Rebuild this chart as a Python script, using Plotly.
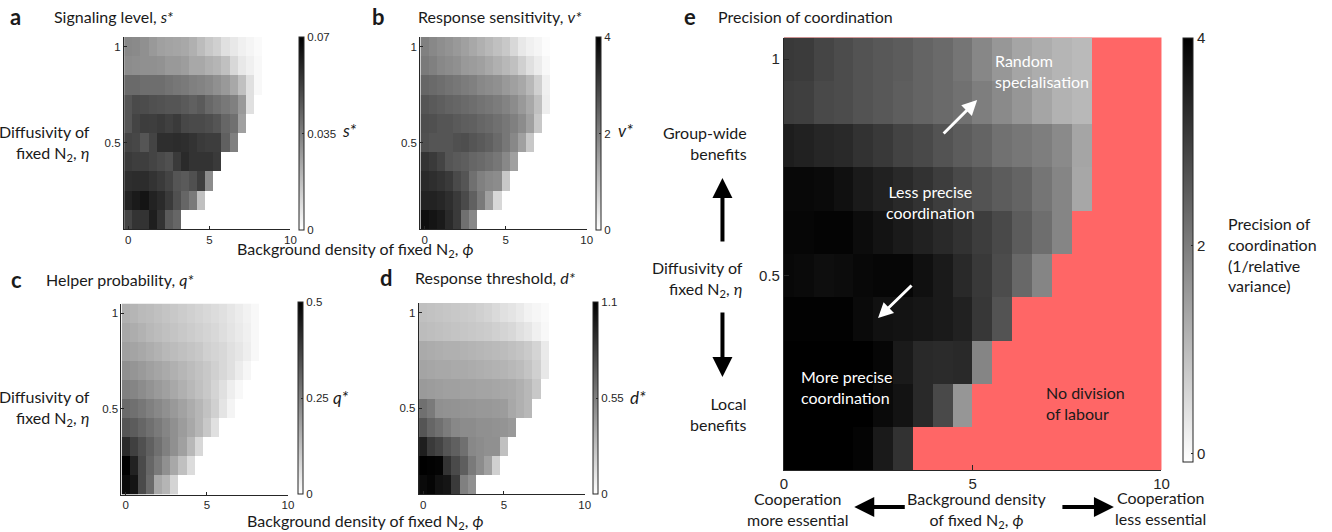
import plotly.graph_objects as go

W, H = 1332, 532

# ---------------- data ----------------
eta = [0.1, 0.2, 0.3, 0.4, 0.5, 0.6, 0.7, 0.8, 0.9, 1.0]
phi_ad = [0.0, 0.5, 1.0, 1.5, 2.0, 2.5, 3.0, 3.5, 4.0, 4.5,
          5.0, 5.5, 6.0, 6.5, 7.0, 7.5, 8.0, 8.5, 9.0, 9.5]
phi_e = [0.0, 0.526, 1.053, 1.579, 2.105, 2.632, 3.158, 3.684, 4.211, 4.737,
         5.263, 5.789, 6.316, 6.842, 7.368, 7.895, 8.421, 8.947, 9.474, 10.0]

# rows ordered eta = 0.1 ... 1.0 ; cells beyond each row's end = no division of labour
s_rows = [
    [.0513, .056, .056, .0618, .056, .0453, .042],
    [.0607, .0629, .0645, .0607, .0585, .0541, .048, .042, .0365, .0173],
    [.0574, .0579, .0579, .056, .0541, .0513, .0467, .0453, .048, .053, .0316],
    [.0541, .053, .053, .0513, .0497, .048, .0541, .0585, .056, .056, .056, .0541],
    [.0513, .0505, .0467, .0513, .0574, .0574, .0579, .0574, .056, .0541, .0533, .0533, .0436, .0349],
    [.0467, .0513, .0533, .053, .0541, .0524, .0541, .0505, .0497, .0497, .0486, .0467, .042, .0393, .0261],
    [.0467, .0497, .0491, .048, .0475, .0467, .0467, .0453, .0436, .0453, .0414, .0393, .037, .0349, .028, .0085],
    [.0409, .0409, .0398, .0398, .0398, .0384, .0373, .0365, .0349, .034, .0327, .0305, .028, .0239, .0173, .0085, .0019],
    [.0316, .031, .0305, .0305, .030, .028, .028, .027, .0239, .0239, .0217, .0203, .0173, .0107, .0063, .0041, .0019],
    [.0327, .0321, .0305, .028, .0261, .0253, .0247, .0239, .0217, .0184, .0151, .0129, .0085, .0063, .0041, .0027, .0014],
]
v_rows = [
    [3.78, 3.69, 3.59, 3.34, 3.09, 2.24, 1.87],
    [3.47, 3.47, 3.40, 3.28, 3.09, 2.84, 2.49, 2.09, 1.49, 0.61],
    [3.34, 3.28, 3.20, 3.09, 2.84, 2.67, 2.24, 1.99, 1.87, 1.80, 0.86],
    [3.20, 3.09, 2.93, 2.67, 2.59, 2.53, 2.40, 2.34, 2.24, 2.13, 1.87, 1.49],
    [2.75, 2.67, 2.67, 2.67, 2.75, 2.78, 2.67, 2.59, 2.49, 2.34, 2.13, 1.87, 1.49, 0.86],
    [2.78, 2.75, 2.67, 2.67, 2.59, 2.53, 2.49, 2.40, 2.34, 2.24, 2.13, 1.99, 1.80, 1.49, 0.86],
    [2.67, 2.59, 2.53, 2.45, 2.40, 2.34, 2.27, 2.20, 2.13, 2.05, 1.95, 1.80, 1.60, 1.36, 0.99, 0.27],
    [2.40, 2.34, 2.27, 2.20, 2.13, 2.05, 1.99, 1.87, 1.80, 1.74, 1.60, 1.49, 1.36, 1.11, 0.74, 0.24],
    [2.09, 1.99, 1.87, 1.80, 1.74, 1.60, 1.55, 1.49, 1.36, 1.24, 1.11, 0.99, 0.74, 0.49, 0.30, 0.11],
    [1.99, 1.87, 1.77, 1.69, 1.60, 1.49, 1.36, 1.24, 1.11, 0.99, 0.86, 0.61, 0.36, 0.24, 0.16, 0.05],
]
q_rows = [
    [0.48, 0.461, 0.355, 0.292, 0.171, 0.145, 0.084],
    [0.50, 0.433, 0.355, 0.300, 0.261, 0.218, 0.171, 0.124, 0.069],
    [0.418, 0.375, 0.343, 0.312, 0.280, 0.249, 0.218, 0.186, 0.139, 0.076],
    [0.333, 0.320, 0.300, 0.280, 0.261, 0.239, 0.218, 0.194, 0.171, 0.143, 0.108, 0.061],
    [0.292, 0.280, 0.267, 0.249, 0.233, 0.218, 0.200, 0.182, 0.163, 0.143, 0.120, 0.092, 0.053, 0.022],
    [0.249, 0.239, 0.225, 0.212, 0.198, 0.186, 0.171, 0.155, 0.139, 0.124, 0.108, 0.084, 0.061, 0.033, 0.014],
    [0.218, 0.208, 0.198, 0.186, 0.176, 0.167, 0.155, 0.143, 0.131, 0.120, 0.108, 0.092, 0.076, 0.061, 0.037, 0.018],
    [0.186, 0.178, 0.171, 0.161, 0.151, 0.139, 0.131, 0.124, 0.116, 0.108, 0.092, 0.084, 0.076, 0.061, 0.049, 0.033, 0.014],
    [0.171, 0.161, 0.151, 0.139, 0.131, 0.124, 0.116, 0.108, 0.100, 0.092, 0.084, 0.076, 0.065, 0.053, 0.041, 0.029, 0.014],
    [0.155, 0.145, 0.135, 0.131, 0.124, 0.116, 0.108, 0.100, 0.092, 0.084, 0.076, 0.069, 0.061, 0.049, 0.037, 0.025, 0.014],
]
d_rows = [
    [1.057, 1.078, 1.027, 1.009, 0.850, 0.548, 0.479],
    [1.100, 1.091, 1.083, 0.880, 0.781, 0.694, 0.574, 0.496, 0.410, 0.203],
    [0.971, 0.850, 0.807, 0.733, 0.686, 0.617, 0.513, 0.496, 0.479, 0.479, 0.272],
    [0.733, 0.660, 0.617, 0.565, 0.513, 0.496, 0.496, 0.479, 0.479, 0.470, 0.462, 0.440],
    [0.617, 0.574, 0.479, 0.470, 0.466, 0.457, 0.453, 0.444, 0.444, 0.436, 0.427, 0.375, 0.341, 0.306],
    [0.436, 0.427, 0.418, 0.410, 0.410, 0.401, 0.401, 0.393, 0.393, 0.384, 0.375, 0.367, 0.341, 0.306, 0.237],
    [0.393, 0.384, 0.375, 0.375, 0.367, 0.367, 0.358, 0.349, 0.341, 0.332, 0.324, 0.306, 0.289, 0.254, 0.203, 0.099],
    [0.367, 0.358, 0.349, 0.341, 0.341, 0.332, 0.324, 0.315, 0.306, 0.298, 0.289, 0.272, 0.254, 0.229, 0.185, 0.090],
    [0.289, 0.280, 0.272, 0.263, 0.254, 0.246, 0.237, 0.229, 0.220, 0.203, 0.185, 0.168, 0.134, 0.108, 0.065, 0.030],
    [0.272, 0.263, 0.254, 0.246, 0.237, 0.229, 0.220, 0.203, 0.185, 0.160, 0.134, 0.116, 0.090, 0.056, 0.039, 0.022],
]
prec_rows = [
    [4.00, 4.00, 4.00, 4.00, 3.94, 3.59, 3.20],
    [4.00, 4.00, 4.00, 4.00, 4.00, 3.84, 3.69, 3.34, 2.84, 1.60],
    [4.00, 4.00, 4.00, 4.00, 4.00, 3.91, 3.59, 3.34, 3.31, 3.34, 1.87],
    [3.97, 3.97, 3.97, 3.97, 3.84, 3.72, 3.69, 3.65, 3.59, 3.47, 3.12, 2.67],
    [3.87, 3.84, 3.78, 3.81, 3.87, 3.91, 3.91, 3.75, 3.59, 3.34, 3.09, 2.78, 2.34, 1.87],
    [3.91, 3.91, 3.94, 3.94, 3.81, 3.69, 3.59, 3.47, 3.34, 3.20, 3.03, 2.84, 2.53, 2.24, 1.87],
    [3.87, 3.87, 3.84, 3.75, 3.59, 3.47, 3.34, 3.20, 3.03, 2.84, 2.67, 2.53, 2.40, 2.13, 1.87, 1.33],
    [3.53, 3.47, 3.40, 3.34, 3.20, 3.09, 2.93, 2.84, 2.67, 2.53, 2.40, 2.20, 2.09, 1.99, 1.80, 1.36],
    [3.03, 3.00, 2.84, 2.78, 2.67, 2.59, 2.49, 2.40, 2.31, 2.20, 1.99, 1.80, 1.60, 1.36, 1.16, 1.05],
    [3.09, 3.06, 2.89, 2.78, 2.67, 2.59, 2.53, 2.40, 2.31, 2.13, 1.84, 1.58, 1.36, 1.24, 1.11, 1.03],
]

x_ticks = [0, 5, 10]
y_ticks = [0.5, 1]
y_ticktext = ["0.5", "1"]
cb_s = ([0, 0.035, 0.07], ["0", "0.035", "0.07"])
cb_v = ([0, 2, 4], ["0", "2", "4"])
cb_q = ([0, 0.25, 0.5], ["0", "0.25", "0.5"])
cb_d = ([0, 0.55, 1.1], ["0", "0.55", "1.1"])
cb_e = ([0, 2, 4], ["0", "2", "4"])

# ---------------- style ----------------
GRAY = [[0, "#ffffff"], [1, "#000000"]]
AX = "#262626"
TXT = "#1a1a1a"
LBL = "Lato"
TICKF = "Liberation Sans, Arial, sans-serif"
RED = "#ff6666"


def pad(rows, n=20):
    return [list(r) + [None] * (n - len(r)) for r in rows]


def cb(left, top, length, thick, ticks, size):
    return dict(x=left / W, xanchor="left", y=1 - top / H, yanchor="top",
                len=length, lenmode="pixels", thickness=thick, thicknessmode="pixels",
                xpad=0, ypad=0, outlinewidth=1, outlinecolor=AX,
                tickvals=ticks[0], ticktext=ticks[1], ticks="inside", ticklen=2,
                tickcolor=AX, tickfont=dict(family=TICKF, size=size, color=AX))


def heat(x, rows, zmin, zmax, xa, ya, colorbar):
    return go.Heatmap(x=x, y=eta, z=pad(rows), zmin=zmin, zmax=zmax, colorscale=GRAY,
                      xaxis=xa, yaxis=ya, colorbar=colorbar, hoverinfo="skip")


fig = go.Figure()
fig.add_trace(heat(phi_ad, s_rows, 0, 0.07, "x", "y", cb(298, 37, 193, 5, cb_s, 11.5)))
fig.add_trace(heat(phi_ad, v_rows, 0, 4, "x2", "y2", cb(597, 37, 193, 5, cb_v, 11.5)))
fig.add_trace(heat(phi_ad, q_rows, 0, 0.5, "x3", "y3", cb(297, 302, 192, 5, cb_q, 11.5)))
fig.add_trace(heat(phi_ad, d_rows, 0, 1.1, "x4", "y4", cb(594, 302, 192, 5, cb_d, 11.5)))
fig.add_trace(heat(phi_e, prec_rows, -0.08, 4, "x5", "y5", cb(1190, 38, 424, 10, cb_e, 15)))


def xax(l, r, rng, anchor, size, tl):
    return dict(domain=[l / W, r / W], range=rng, anchor=anchor, tickvals=x_ticks,
                ticks="inside", ticklen=tl, tickcolor=AX, showline=True, linecolor=AX,
                linewidth=1, showgrid=False, zeroline=False, fixedrange=True,
                tickfont=dict(family=TICKF, size=size, color=AX))


def yax(t, b, anchor, size, tl):
    return dict(domain=[1 - b / H, 1 - t / H], range=[0.05, 1.05], anchor=anchor,
                tickvals=y_ticks, ticktext=y_ticktext, ticks="inside", ticklen=tl,
                tickcolor=AX, showline=True, linecolor=AX, linewidth=1, showgrid=False,
                zeroline=False, fixedrange=True,
                tickfont=dict(family=TICKF, size=size, color=AX))


rng_ad = [-0.27, 10]
layout_axes = dict(
    xaxis=xax(121, 289, rng_ad, "y", 11.5, 3), yaxis=yax(37, 229, "x", 11.5, 3),
    xaxis2=xax(420, 588, rng_ad, "y2", 11.5, 3), yaxis2=yax(37, 229, "x2", 11.5, 3),
    xaxis3=xax(118.5, 286.5, rng_ad, "y3", 11.5, 3), yaxis3=yax(303.5, 494.5, "x3", 11.5, 3),
    xaxis4=xax(418.5, 586, rng_ad, "y4", 11.5, 3), yaxis4=yax(303, 494, "x4", 11.5, 3),
    xaxis5=xax(787, 1168, [0, 10], "y5", 15, 5), yaxis5=yax(37.5, 470, "x5", 15, 5),
)


def txt(x, y, s, size=16, color=TXT, xanchor="left", align="left", bold=False):
    return dict(x=x / W, y=1 - y / H, xref="paper", yref="paper", text=s, showarrow=False,
                xanchor=xanchor, yanchor="middle", align=align,
                font=dict(family=LBL, size=size, color=color,
                          weight=700 if bold else 400))


def arrow(hx, hy, tx, ty, color, width, size=1.0):
    return dict(x=hx / W, y=1 - hy / H, xref="paper", yref="paper", text="",
                showarrow=True, ax=tx - hx, ay=ty - hy, axref="pixel", ayref="pixel",
                arrowhead=2, arrowsize=size, arrowwidth=width, arrowcolor=color,
                standoff=0, startstandoff=0)


N2 = "N<sub>2</sub>"
ann = [
    txt(12, 16.5, "a", 22, xanchor="center", bold=True),
    txt(48, 16.5, "Signaling level, <i>s*</i>"),
    txt(378, 16.5, "b", 22, xanchor="center", bold=True),
    txt(416, 16.5, "Response sensitivity, <i>v*</i>"),
    txt(13, 279, "c", 22, xanchor="center", bold=True),
    txt(40, 279, "Helper probability, <i>q*</i>"),
    txt(386, 277, "d", 22, xanchor="center", bold=True),
    txt(413, 277, "Response threshold, <i>d*</i>"),
    txt(692, 16.5, "e", 22, xanchor="center", bold=True),
    txt(718, 16.5, "Precision of coordination"),
    # y labels a, c
    txt(89, 143, "Diffusivity of<br>fixed " + N2 + ", <i>η</i>", xanchor="right", align="right"),
    txt(89, 408, "Diffusivity of<br>fixed " + N2 + ", <i>η</i>", xanchor="right", align="right"),
    # x labels
    txt(355, 249, "Background density of fixed " + N2 + ", <i>ϕ</i>", xanchor="center"),
    txt(365, 521, "Background density of fixed " + N2 + ", <i>ϕ</i>", xanchor="center"),
    # colorbar variable labels
    txt(339, 131, "<i>s*</i>", 17),
    txt(618, 131, "<i>v*</i>", 17),
    txt(330, 397, "<i>q*</i>", 17),
    txt(630, 397, "<i>d*</i>", 17),
    # panel e
    txt(1233, 254, "Precision of<br>coordination<br>(1/relative<br>variance)"),
    txt(998, 71, "Random<br>specialisation", color="#ffffff"),
    txt(935, 202, "Less precise<br>coordination", color="#ffffff", xanchor="center", align="center"),
    txt(802, 387, "More precise<br>coordination", color="#ffffff"),
    txt(1049, 403, "No division<br>of labour", color="#1a1a1a"),
    txt(752, 143, "Group-wide<br>benefits", xanchor="right", align="right"),
    txt(748, 279, "Diffusivity of<br>fixed " + N2 + ", <i>η</i>", xanchor="right", align="right"),
    txt(752, 414, "Local<br>benefits", xanchor="right", align="right"),
    txt(801, 509, "Cooperation<br>more essential", xanchor="center", align="center"),
    txt(982, 510, "Background density<br>of fixed " + N2 + ", <i>ϕ</i>", xanchor="center", align="center"),
    txt(1167, 508, "Cooperation<br>less essential", xanchor="center", align="center"),
    arrow(982, 100, 947, 135, "#ffffff", 3),
    arrow(882, 318, 917, 284, "#ffffff", 3),
    arrow(725, 178, 725, 243, "#000000", 4),
    arrow(725, 377, 725, 311, "#000000", 4),
    arrow(858, 507, 910, 507, "#000000", 4),
    arrow(1120, 507, 1067, 507, "#000000", 4),
]

shapes = [dict(type="rect", xref="x5 domain", yref="y5 domain", x0=0, x1=1, y0=0, y1=1,
               fillcolor=RED, line=dict(width=0), layer="below")]

fig.update_layout(
    width=W, height=H, autosize=False,
    margin=dict(l=0, r=0, t=0, b=0, pad=0),
    paper_bgcolor="#ffffff", plot_bgcolor="#ffffff",
    showlegend=False, annotations=ann, shapes=shapes,
    font=dict(family=LBL, color=TXT),
    **layout_axes,
)

fig.write_html("out.html", config={"displayModeBar": False})
